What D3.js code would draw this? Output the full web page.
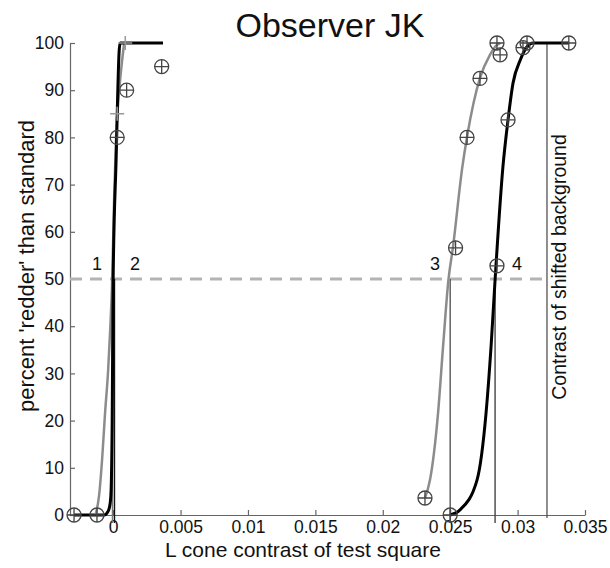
<!DOCTYPE html>
<html>
<head>
<meta charset="utf-8">
<script src="https://cdn.jsdelivr.net/npm/d3@7"></script>
<style>
  body { margin: 0; background: #fff; }
  svg text { font-family: "Liberation Sans", Arial, Helvetica, sans-serif; fill: #111; }
</style>
</head>
<body>
<div id="chart"></div>
<script>
// contrast values (x) and percent 'redder' (y)
const xTicks = [0, 0.005, 0.01, 0.015, 0.02, 0.025, 0.03, 0.035];
const yTicks = [0, 10, 20, 30, 40, 50, 60, 70, 80, 90, 100];

// fitted curves
const curve1 = [[-0.00127, 0.4], [-0.00104, 4.2], [-0.00082, 11.7], [-0.0006, 21.6], [-0.00037, 30.7],
  [-0.00022, 39.2], [-0.00007, 49.8], [0.00007, 66.7], [0.00022, 80.1], [0.00045, 90.0],
  [0.00067, 96.4], [0.00082, 100]];
const curve2 = [[-0.0029, 0], [-0.00067, 0], [-0.00037, 0.8], [-0.00022, 2.5], [-0.00015, 5.3],
  [-0.00007, 20.1], [0, 49.8], [0.00022, 75.2], [0.00045, 98.5], [0.00052, 100], [0.0037, 100]];
const curve3 = [[0.02313, 3.6], [0.0235, 7.4], [0.0241, 21.6], [0.02447, 35.6], [0.02487, 49.8],
  [0.0252, 56.6], [0.0259, 73.7], [0.02625, 80.1], [0.02721, 92.6], [0.02795, 97.5],
  [0.02847, 99.6], [0.0287, 100]];
const curve4 = [[0.02499, 0], [0.02573, 1.1], [0.02699, 7.4], [0.02766, 21.6], [0.02803, 35.6],
  [0.02833, 49.8], [0.02891, 73.7], [0.02929, 83.7], [0.02966, 91.5], [0.0302, 96.4],
  [0.0307, 99.2], [0.03115, 100], [0.0338, 100]];

// observed data (circle + cross markers)
const dataLeft = [[-0.0029, 0], [-0.0012, 0], [0.0003, 80], [0.001, 90], [0.0036, 95]];
const dataRight = [[0.02313, 3.6], [0.025, 0], [0.0254, 56.6], [0.02625, 80], [0.02721, 92.5],
  [0.02847, 100], [0.0287, 97.5], [0.02847, 52.8], [0.02929, 83.7], [0.0304, 99], [0.0307, 100], [0.0338, 100]];
const crossOnly = [[0.0003, 85], [0.0009, 100]];

// 50% thresholds and background contrast
const thresholds = [[-0.00005, "#777"], [0.0001, "#111"], [0.025, "#555"], [0.02833, "#444"]];
const backgroundContrast = 0.03218;
const curveLabels = [["1", -0.00119], ["2", 0.00162], ["3", 0.02388], ["4", 0.02996]];

const width = 610, height = 568;
const svg = d3.select("#chart").append("svg")
  .attr("width", width).attr("height", height);

const x = d3.scaleLinear().domain([-0.0032, 0.035]).range([70, 585]);
const y = d3.scaleLinear().domain([0, 100]).range([515, 43]);

// axes with inward ticks
const xAxis = svg.append("g")
  .attr("transform", `translate(0,${y(0)})`)
  .call(d3.axisBottom(x).tickValues(xTicks).tickFormat(d => d === 0 ? "0" : String(d))
    .tickSizeInner(-5).tickSizeOuter(0).tickPadding(6));
const yAxis = svg.append("g")
  .attr("transform", `translate(${x.range()[0]},0)`)
  .call(d3.axisLeft(y).tickValues(yTicks).tickSizeInner(-5).tickSizeOuter(0).tickPadding(6));
[xAxis, yAxis].forEach(g => {
  g.selectAll("path, line").attr("stroke", "#666").attr("stroke-width", 1.2);
  g.selectAll("text").attr("font-size", 17.5).attr("fill", "#111")
    .style("font-family", '"Liberation Sans", Arial, sans-serif');
});

// 50% dashed line
svg.append("line")
  .attr("x1", x.range()[0]).attr("x2", x(0.0322))
  .attr("y1", y(50)).attr("y2", y(50))
  .attr("stroke", "#b3b3b3").attr("stroke-width", 3)
  .attr("stroke-dasharray", "12,8");

// threshold lines (50% down past axis)
svg.selectAll(".thr").data(thresholds).enter().append("line")
  .attr("x1", d => x(d[0])).attr("x2", d => x(d[0]))
  .attr("y1", y(50)).attr("y2", y(0) + 8)
  .attr("stroke", d => d[1]).attr("stroke-width", 1.4);

// background contrast line
svg.append("line")
  .attr("x1", x(backgroundContrast)).attr("x2", x(backgroundContrast))
  .attr("y1", y(100)).attr("y2", y(0) + 3)
  .attr("stroke", "#444").attr("stroke-width", 1.2);

const line = d3.line().x(d => x(d[0])).y(d => y(d[1])).curve(d3.curveMonotoneX);

[[curve1, "#8c8c8c", 2.5], [curve3, "#8c8c8c", 2.5], [curve2, "#000", 3], [curve4, "#000", 3]]
  .forEach(([pts, col, w]) => {
    svg.append("path").datum(pts)
      .attr("d", line)
      .attr("fill", "none").attr("stroke", col).attr("stroke-width", w);
  });

// markers
const r = 7;
const markers = svg.append("g").attr("fill", "none").attr("stroke", "#444").attr("stroke-width", 1.3);
markers.selectAll("circle").data(dataLeft.concat(dataRight)).enter().append("circle")
  .attr("cx", d => x(d[0])).attr("cy", d => y(d[1])).attr("r", r);
markers.selectAll("path.cross").data(dataLeft.concat(dataRight)).enter().append("path")
  .attr("class", "cross")
  .attr("d", d => `M${x(d[0]) - r},${y(d[1])}H${x(d[0]) + r}M${x(d[0])},${y(d[1]) - r}V${y(d[1]) + r}`);
svg.selectAll("path.plus").data(crossOnly).enter().append("path")
  .attr("class", "plus")
  .attr("fill", "none").attr("stroke", "#999").attr("stroke-width", 1.5)
  .attr("d", d => `M${x(d[0]) - r},${y(d[1])}H${x(d[0]) + r}M${x(d[0])},${y(d[1]) - r}V${y(d[1]) + r}`);

// curve numbers
svg.selectAll(".lab").data(curveLabels).enter().append("text")
  .attr("x", d => x(d[1])).attr("y", y(50) - 9)
  .attr("text-anchor", "middle").attr("font-size", 18)
  .text(d => d[0]);

// titles
svg.append("text").attr("x", 330).attr("y", 37)
  .attr("text-anchor", "middle").attr("font-size", 34).text("Observer JK");
svg.append("text").attr("x", 303).attr("y", 557)
  .attr("text-anchor", "middle").attr("font-size", 21).text("L cone contrast of test square");
svg.append("text").attr("transform", "translate(34,266) rotate(-90)")
  .attr("text-anchor", "middle").attr("font-size", 22).text("percent 'redder' than standard");
svg.append("text").attr("transform", `translate(${x(backgroundContrast) + 19},267) rotate(-90)`)
  .attr("text-anchor", "middle").attr("font-size", 19.5).text("Contrast of shifted background");
</script>
</body>
</html>
